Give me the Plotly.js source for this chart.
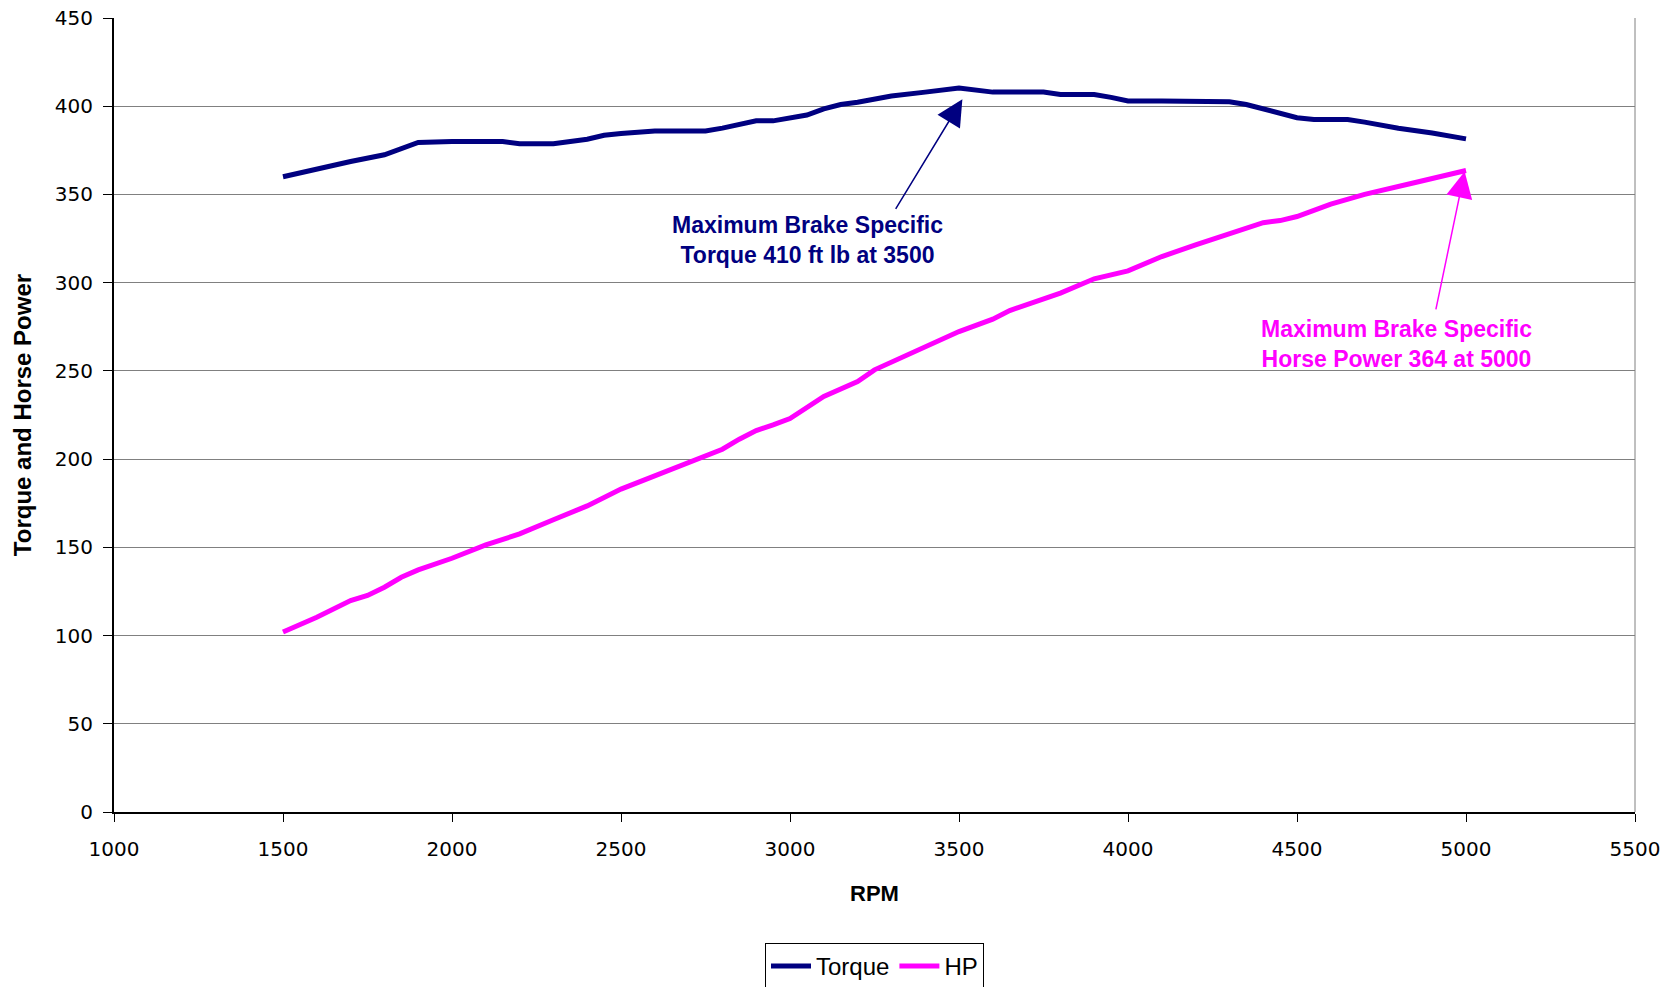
<!DOCTYPE html>
<html>
<head>
<meta charset="utf-8">
<script src="https://cdn.plot.ly/plotly-3.0.1.min.js"></script>
<style>
html,body{margin:0;padding:0;background:#fff;}
#chart{width:1680px;height:987px;}
</style>
</head>
<body>
<div id="chart"></div>
<script>
// ---- Data ----
const torqueRpm = [1500,1600,1700,1800,1850,1900,2000,2100,2150,2200,2300,2400,2450,2500,2600,2700,2750,2800,2900,2950,3000,3050,3100,3150,3200,3300,3400,3500,3600,3700,3750,3800,3900,3950,4000,4100,4200,4300,4350,4400,4500,4550,4650,4700,4800,4900,5000];
const torqueVal = [360,364.5,368.7,372.5,376,379.5,380,380,380,378.8,378.8,381.3,383.5,384.5,386,386,386,387.6,391.7,391.7,393,395,398.5,401,402.3,405.8,408,410.3,408,408,408,406.6,406.6,405,403,403,403,402.5,401,398.5,393.5,392.5,392.5,391,387.5,384.8,381.5];

const hpRpm = [1500,1600,1700,1750,1800,1850,1900,2000,2100,2200,2300,2400,2500,2600,2700,2800,2850,2900,2950,3000,3100,3200,3250,3400,3500,3600,3650,3800,3900,4000,4100,4200,4350,4400,4450,4500,4600,4700,4850,5000];
const hpVal = [102,110.4,119.8,122.7,127.4,133,137.2,143.8,151.4,157.6,165.6,173.5,183,190.5,197.7,205.6,211.3,216.2,219.4,223,235.5,244,250.6,263.8,272.3,279.3,284.2,294.1,302.2,306.7,314.8,321.4,331,334,335.2,337.5,344.5,350,356.8,363.6];

const seriesNames = ["Torque","HP"];
const xTitle = "RPM";
const yTitle = "Torque and Horse Power";
const torqueNote = "Maximum Brake Specific<br>Torque 410 ft lb at 3500";
const hpNote = "Maximum Brake Specific<br>Horse Power 364 at 5000";
// annotation anchor points (data coords)
const torqueNotePos = [3051, 324];
const torqueArrowHead = [3510, 404];
const torqueArrowTail = [3310, 341];
const hpNotePos = [4793, 265.5];
const hpArrowHead = [4996, 363];
const hpArrowTail = [4910, 284];

const NAVY = "#000080", MAGENTA = "#FF00FF";

const traces = [
  {x: torqueRpm, y: torqueVal, name: seriesNames[0], type: "scatter", mode: "lines",
   line: {color: NAVY, width: 5}},
  {x: hpRpm, y: hpVal, name: seriesNames[1], type: "scatter", mode: "lines",
   line: {color: MAGENTA, width: 5}}
];

const tickFont = {family: "DejaVu Sans", size: 20, color: "#000"};
const xTitleFont = {family: "Liberation Sans", size: 22, color: "#000", weight: "bold"};
const yTitleFont = {family: "Liberation Sans", size: 24, color: "#000", weight: "bold"};

const layout = {
  width: 1680, height: 987,
  paper_bgcolor: "#fff", plot_bgcolor: "#fff",
  margin: {l: 114, r: 45, t: 18, b: 175},
  showlegend: true,
  legend: {orientation: "h", x: 0.5, xref: "paper", xanchor: "center",
           y: 0.0446, yref: "container", yanchor: "top",
           bordercolor: "#000", borderwidth: 1, bgcolor: "#fff",
           font: {family: "Liberation Sans", size: 24, color: "#000"},
           itemwidth: 40, tracegroupgap: 0},
  xaxis: {
    range: [1000, 5500], dtick: 500, tick0: 1000,
    showgrid: false, zeroline: false,
    showline: true, linecolor: "#000", linewidth: 2,
    ticks: "outside", ticklen: 8, tickcolor: "#000", tickwidth: 1,
    ticklabelstandoff: 10,
    tickfont: tickFont,
    title: {text: xTitle, font: xTitleFont, standoff: 26}
  },
  yaxis: {
    range: [0, 450], dtick: 50, tick0: 0,
    showgrid: true, gridcolor: "#808080", gridwidth: 1,
    zeroline: false,
    showline: true, linecolor: "#000", linewidth: 2,
    ticks: "outside", ticklen: 9, tickcolor: "#000", tickwidth: 1,
    ticklabelstandoff: 6,
    tickfont: tickFont,
    title: {text: yTitle, font: yTitleFont, standoff: 16}
  },
  shapes: [
    {type: "line", xref: "paper", yref: "paper", x0: 1, x1: 1, y0: 0, y1: 1,
     line: {color: "#808080", width: 1}}
  ],
  annotations: [
    {x: torqueNotePos[0], y: torqueNotePos[1], xref: "x", yref: "y", text: torqueNote,
     showarrow: false, align: "center",
     font: {family: "Liberation Sans", size: 23, color: NAVY, weight: "bold"}},
    {x: torqueArrowHead[0], y: torqueArrowHead[1], ax: torqueArrowTail[0], ay: torqueArrowTail[1],
     xref: "x", yref: "y", axref: "x", ayref: "y", text: "", showarrow: true,
     arrowhead: 2, arrowsize: 3.5, arrowwidth: 1.5, arrowcolor: NAVY},
    {x: hpNotePos[0], y: hpNotePos[1], xref: "x", yref: "y", text: hpNote,
     showarrow: false, align: "center",
     font: {family: "Liberation Sans", size: 23, color: MAGENTA, weight: "bold"}},
    {x: hpArrowHead[0], y: hpArrowHead[1], ax: hpArrowTail[0], ay: hpArrowTail[1],
     xref: "x", yref: "y", axref: "x", ayref: "y", text: "", showarrow: true,
     arrowhead: 2, arrowsize: 3.5, arrowwidth: 1.5, arrowcolor: MAGENTA}
  ]
};

Plotly.newPlot("chart", traces, layout, {displayModeBar: false, responsive: false});
</script>
</body>
</html>
